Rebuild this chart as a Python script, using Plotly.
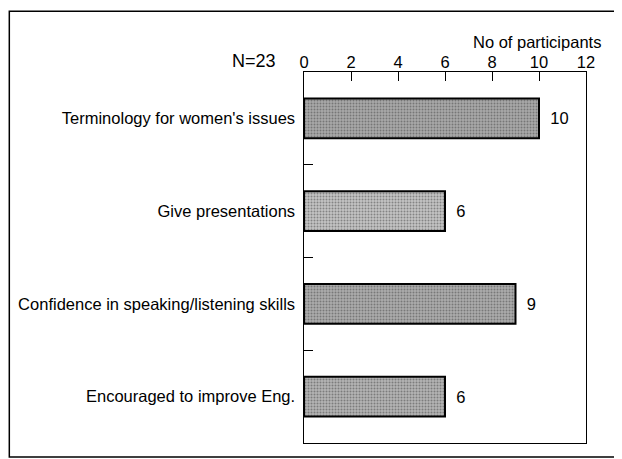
import plotly.graph_objects as go

# data
categories = ["Terminology for women's issues",
              "Give presentations",
              "Confidence in speaking/listening skills",
              "Encouraged to improve Eng."]
participants = [10, 6, 9, 6]
bar_greys = ["#a9a9a9", "#c4c4c4", "#acacac", "#b4b4b4"]
x_ticks = [0, 2, 4, 6, 8, 10, 12]

FONT = "Liberation Sans, Arial, Helvetica, sans-serif"

fig = go.Figure()
fig.add_trace(go.Bar(
    y=categories, x=participants, orientation="h",
    width=0.43,
    marker=dict(color=bar_greys,
                line=dict(color="black", width=2),
                pattern=dict(shape=".", fgcolor="#6e6e6e", size=3, solidity=0.35)),
    text=["\u2002" + str(v) for v in participants], textposition="outside",
    textfont=dict(size=16.5, color="black", family=FONT),
    cliponaxis=False, showlegend=False,
))

# page has an 8px body margin, so the figure is laid out 8px smaller
fig.update_layout(
    width=614, height=451,
    margin=dict(l=296, r=36, t=64, b=16, autoexpand=False),
    paper_bgcolor="white", plot_bgcolor="white",
    font=dict(family=FONT, size=16.5, color="black"),
    xaxis=dict(range=[0, 12], side="top", tickvals=x_ticks,
               ticks="inside", ticklen=9, tickcolor="black", tickwidth=1,
               ticklabelstandoff=-4,
               showgrid=False, zeroline=False, automargin=False,
               showline=True, linecolor="black", linewidth=1, mirror=True,
               tickfont=dict(size=16.5)),
    yaxis=dict(autorange="reversed", type="category",
               ticks="inside", tickson="boundaries", ticklen=9,
               tickcolor="black", tickwidth=1, automargin=False,
               showgrid=False, zeroline=False,
               showline=True, linecolor="black", linewidth=1, mirror=True,
               tickfont=dict(size=16.5), ticksuffix=" "),
)

# outer frame around the whole figure
fig.add_shape(type="rect", xref="paper", yref="paper",
              x0=-1.045, x1=1.11, y0=-0.038, y1=1.164,
              line=dict(color="black", width=1.5))

fig.add_annotation(text="No of participants", xref="paper", yref="paper",
                   x=1.06, y=1.082, xanchor="right", yanchor="middle",
                   showarrow=False, font=dict(size=16.5))
fig.add_annotation(text="N=23", xref="paper", yref="paper",
                   x=-0.092, y=1.03, xanchor="right", yanchor="middle",
                   showarrow=False, font=dict(size=18))

fig.write_html("out.html")
